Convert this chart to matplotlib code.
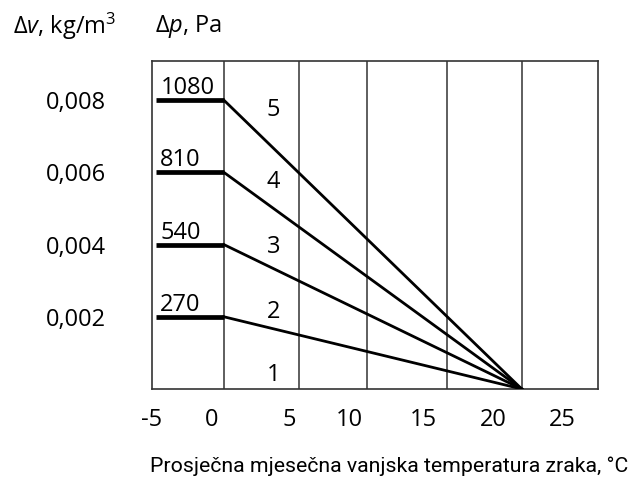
import matplotlib
matplotlib.use("Agg")
import matplotlib.pyplot as plt

plt.rcParams["mathtext.fontset"] = "custom"
plt.rcParams["mathtext.rm"] = "Open Sans"
plt.rcParams["mathtext.it"] = "Open Sans:italic"

# data
dv = [0.002, 0.004, 0.006, 0.008]          # kg/m3
dp = [270, 540, 810, 1080]                 # Pa
curve_no = ["1", "2", "3", "4", "5"]
t_min, t_knee, t_end = -5.0, 0.0, 22.0     # horizontal part up to 0 C, all meet at 22 C
grid_t = [0.0, 5.56, 10.6, 16.5, 22.0]
tick_labels = ["-5", "0", "5", "10", "15", "20", "25"]
tick_pos = [-5.33, -0.88, 4.82, 9.28, 14.77, 19.88, 25.0]   # labels sit a bit off the grid in the original

NUM = "Open Sans"
FS = 17
fig = plt.figure(figsize=(6.31, 4.80), dpi=100)
ax = fig.add_axes([0.2404, 0.1896, 0.7068, 0.6823])
ax.set_xlim(t_min, 27.61)
ax.set_ylim(0, 0.00907)

for g in grid_t:
    ax.axvline(g, color="#333333", lw=1.1, zorder=1)

for v, p in zip(dv, dp):
    ax.plot([t_min, t_knee], [v, v], color="black", lw=3.4, solid_capstyle="butt", zorder=3)
    ax.plot([t_knee, t_end], [v, 0], color="black", lw=2.0, zorder=3)
    ax.annotate(str(p), (t_min, v), xytext=(3, 0), textcoords="offset points",
                ha="left", va="bottom", fontsize=FS, family=NUM)

# curve numbers 1..5
offs = [10, 3.5, -1.5, -7, -7]
for lab, v, o in zip(curve_no, [0.0] + dv, offs):
    ax.annotate(lab, (3.65, v), xytext=(0, o), textcoords="offset points",
                ha="center", va="center", fontsize=FS, family=NUM)

for s in ax.spines.values():
    s.set_color("#333333"); s.set_linewidth(1.2)

ax.set_xticks(tick_pos)
ax.set_xticklabels(tick_labels, family=NUM, fontsize=FS)
ax.set_yticks(dv)
ax.set_yticklabels([f"{v:.3f}".replace(".", ",") for v in dv], family=NUM, fontsize=FS)
ax.tick_params(axis="x", length=0, pad=14)
ax.tick_params(axis="y", length=0, pad=33)

fig.text(0.0206, 0.944, r"$\Delta\it{v}$" + ", kg/m$^3$", fontsize=FS, family=NUM, va="center")
fig.text(0.2456, 0.944, r"$\Delta\it{p}$" + ", Pa", fontsize=FS, family=NUM, va="center")
fig.text(0.9952, 0.029, "Prosječna mjesečna vanjska temperatura zraka, °C",
         fontsize=15.3, family="Roboto", ha="right", va="center")

fig.savefig("out.png", dpi=100)
